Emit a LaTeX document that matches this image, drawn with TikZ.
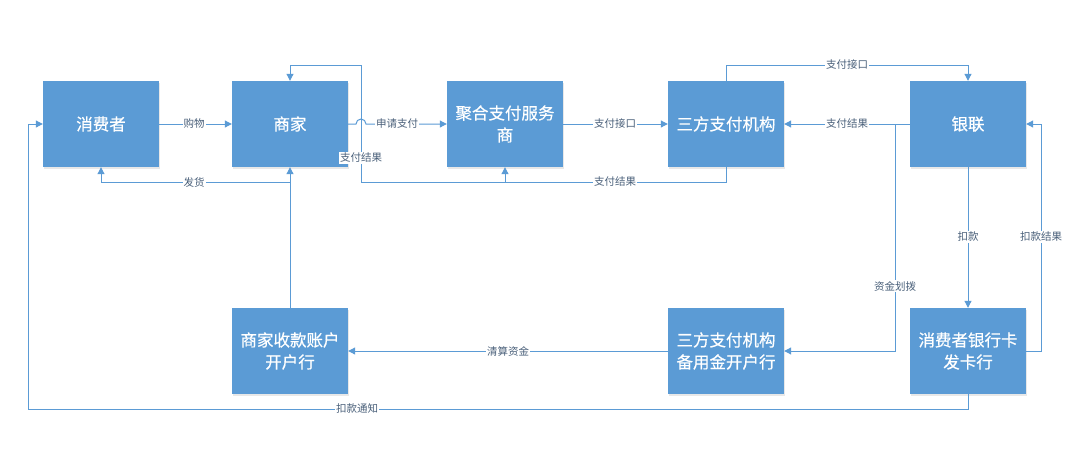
\documentclass[tikz,border=0pt]{standalone}
\usepackage{fontspec}
\newfontfamily\cjk{Noto Sans CJK SC}
\newfontfamily\cjkbox[FakeBold=0.5]{Noto Sans CJK SC}
\usetikzlibrary{arrows.meta,shadows}
\definecolor{boxblue}{HTML}{5B9BD5}
\definecolor{linec}{HTML}{5B9BD5}
\definecolor{labc}{HTML}{4A607A}
\begin{document}
\begin{tikzpicture}[x=1pt,y=-1pt,
 box/.style={fill=boxblue, minimum width=116pt, minimum height=86pt, inner sep=0pt, align=center, text=white, font=\cjkbox\fontsize{16.5}{22}\selectfont, drop shadow={opacity=0.18,shadow xshift=1pt,shadow yshift=-1.5pt}},
 conn/.style={draw=linec, line width=1pt, -{Triangle[length=7pt,width=7pt]}},
 plain/.style={draw=linec, line width=1pt},
 lab/.style={fill=white, inner sep=1pt, text=labc, font=\cjk\fontsize{10.5}{12}\selectfont}]
\fill[white] (0,0) rectangle (1080,450);
\useasboundingbox (0,0) rectangle (1080,450);

% boxes
\node[box] (xf) at (101,124) {消费者};
\node[box] (sj) at (290,124) {商家};
\node[box] (jh) at (505,124) {聚合支付服务\\商};
\node[box] (sf) at (726,124) {三方支付机构};
\node[box] (yl) at (968,124) {银联};
\node[box] (sk) at (290,351) {商家收款账户\\开户行};
\node[box] (by) at (726,351) {三方支付机构\\备用金开户行};
\node[box] (fk) at (968,351) {消费者银行卡\\发卡行};

% turning points
\coordinate (p1) at (726,182);
\coordinate (p2) at (505,182);
\coordinate (p3) at (361,182);
\coordinate (p4) at (361,65);
\coordinate (p5) at (290,65);
\coordinate (q1) at (726,65);
\coordinate (q2) at (968,65);
\coordinate (r1) at (895,124);
\coordinate (r2) at (895,351);
\coordinate (s1) at (1041,351);
\coordinate (s2) at (1041,124);
\coordinate (t1) at (968,409);
\coordinate (t2) at (28,409);
\coordinate (t3) at (28,124);
\coordinate (u1) at (290,182);
\coordinate (u2) at (101,182);
\coordinate (j1) at (356,124);

% connectors
\draw[conn] (xf.east) -- (sj.west);
\draw[conn] (sj.east) -- (j1) arc[start angle=180,end angle=0,radius=5pt] -- (jh.west);
\draw[conn] (jh.east) -- (sf.west);
\draw[conn] (yl.west) -- (sf.east);
\draw[conn] (r1) -- (r2) -- (by.east);
\draw[conn] (sf.south) -- (p1) -- (p2) -- (jh.south);
\draw[conn] (p2) -- (p3) -- (p4) -- (p5) -- (sj.north);
\draw[conn] (sf.north) -- (q1) -- (q2) -- (yl.north);
\draw[conn] (yl.south) -- (fk.north);
\draw[conn] (fk.east) -- (s1) -- (s2) -- (yl.east);
\draw[conn] (by.west) -- (sk.east);
\draw[conn] (sk.north) -- (sj.south);
\draw[conn] (u1) -- (u2) -- (xf.south);
\draw[conn] (fk.south) -- (t1) -- (t2) -- (t3) -- (xf.west);

% labels
\node[lab] (l1) at (194,124) {购物};
\node[lab] (l2) at (397,124) {申请支付};
\node[lab] (l3) at (361,158) {支付结果};
\node[lab] (l4) at (615,124) {支付接口};
\node[lab] (l5) at (615,182) {支付结果};
\node[lab] (l6) at (847,65) {支付接口};
\node[lab] (l7) at (847,124) {支付结果};
\node[lab] (l8) at (194,182) {发货};
\node[lab] (l9) at (968,237) {扣款};
\node[lab] (l10) at (1041,237) {扣款结果};
\node[lab] (l11) at (895,286) {资金划拨};
\node[lab] (l12) at (508,351) {清算资金};
\node[lab] (l13) at (357,409) {扣款通知};
\end{tikzpicture}
\end{document}
